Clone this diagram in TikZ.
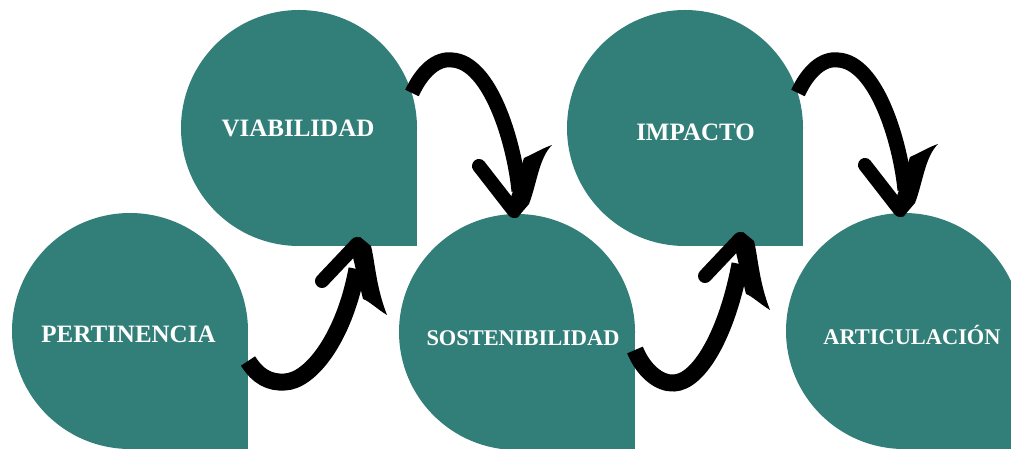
\documentclass[tikz,border=0pt]{standalone}
\usepackage{fontspec}
\setmainfont{Liberation Serif}
\usetikzlibrary{calc}
\definecolor{gotaFl}{HTML}{327F79}
\definecolor{flechaClr}{HTML}{000000}
\newcommand{\rt}{\fontsize{25}{28}\selectfont\bfseries}
\newcommand{\rts}{\fontsize{22.4}{25}\selectfont\bfseries}
% arrow heads (local coordinates, tip at 0,0)
\newcommand{\puntaSube}[1]{%
  \begin{scope}[shift={(#1)}]
    \fill[flechaClr] (0,0) -- (11,-9) .. controls (15,-25) and (16,-50) .. (27,-78)
      .. controls (17,-72) and (9,-64) .. (3,-62) -- (-10,-8) -- cycle;
    \draw[barb] (-3,-7) -- (-38,-44);
  \end{scope}}
\newcommand{\puntaBaja}[1]{%
  \begin{scope}[shift={(#1)}]
    \fill[flechaClr] (0,0) -- (12,14) .. controls (20,35) and (22,60) .. (35,73)
      .. controls (26,70) and (16,64) .. (7,60) -- (-9,12) -- cycle;
    \draw[barb] (-3,7) -- (-38,52);
  \end{scope}}

\begin{document}
\begin{tikzpicture}[
  x=1pt, y=1pt,
  gota/.style={circle, fill=gotaFl, minimum size=236pt, inner sep=0pt, outer sep=0pt},
  rotulo/.style={text=white, anchor=base, inner sep=0pt, font=\rt},
  brush/.style={line width=17pt, draw=flechaClr},
  barb/.style={line width=14pt, line cap=round, draw=flechaClr},
]
\useasboundingbox (0,0) rectangle (1011,449);
\clip (0,0) rectangle (1011,449);

% ---------- drops ----------
\node[gota] (pert) at (130,118) {};
\node[gota] (viab) at (299,321) {};
\node[gota] (sost) at (517,117) {};
\node[gota] (impa) at (685,321) {};
\node[gota] (arti) at (904,118) {};

\fill[gotaFl] (pert.center) rectangle (pert.east |- pert.south);
\fill[gotaFl] (viab.center) rectangle (viab.east |- viab.south);
\fill[gotaFl] (sost.center) rectangle (sost.east |- sost.south);
\fill[gotaFl] (impa.center) rectangle (impa.east |- impa.south);
\fill[gotaFl] (arti.center) rectangle (arti.east |- arti.south);

% ---------- labels ----------
\node[rotulo] (pertTxt) at ($(pert)+(-1.5,-12)$) {PERTINENCIA};
\node[rotulo] (viabTxt) at ($(viab)+(-1,-9)$) {VIABILIDAD};
\node[rotulo, font=\rts] (sostTxt) at ($(sost)+(6,-14)$) {SOSTENIBILIDAD};
\node[rotulo] (impaTxt) at ($(impa)+(10.5,-13)$) {IMPACTO};
\node[rotulo, font=\rts] (artiTxt) at ($(arti)+(8,-14)$) {ARTICULACIÓN};

% ---------- brush arrows ----------
\coordinate (t1) at ($(viab.south)+(61,9)$);
\draw[brush] ($(pert.east)+(0,-30)$) .. controls +(10,-16) and +(-15,-1) ..
  ($(pert.east)+(37,-51)$) .. controls +(25,1) and +(-13,-70) .. ($(t1)+(-3,-32)$);
\puntaSube{t1}

\coordinate (t2) at ($(sost.north)+(0,-4)$);
\draw[brush, line width=15pt] ($(viab)+(113,35)$) .. controls +(10,22) and +(-15,2) ..
  ($(viab)+(153,68)$) .. controls +(38,-2) and +(-5,50) .. ($(t2)+(2,27)$);
\puntaBaja{t2}

\coordinate (t3) at ($(impa.south)+(58,14)$);
\draw[brush] ($(sost.east)+(0,-18)$) .. controls +(8,-20) and +(-15,-1) ..
  ($(sost.east)+(39,-51)$) .. controls +(25,1) and +(-13,-70) .. ($(t3)+(-3,-32)$);
\puntaSube{t3}

\coordinate (t4) at ($(arti.north)+(-1,-4)$);
\draw[brush, line width=15pt] ($(impa)+(113,35)$) .. controls +(10,22) and +(-15,2) ..
  ($(impa)+(153,68)$) .. controls +(38,-2) and +(-5,50) .. ($(t4)+(2,27)$);
\puntaBaja{t4}

\end{tikzpicture}
\end{document}
